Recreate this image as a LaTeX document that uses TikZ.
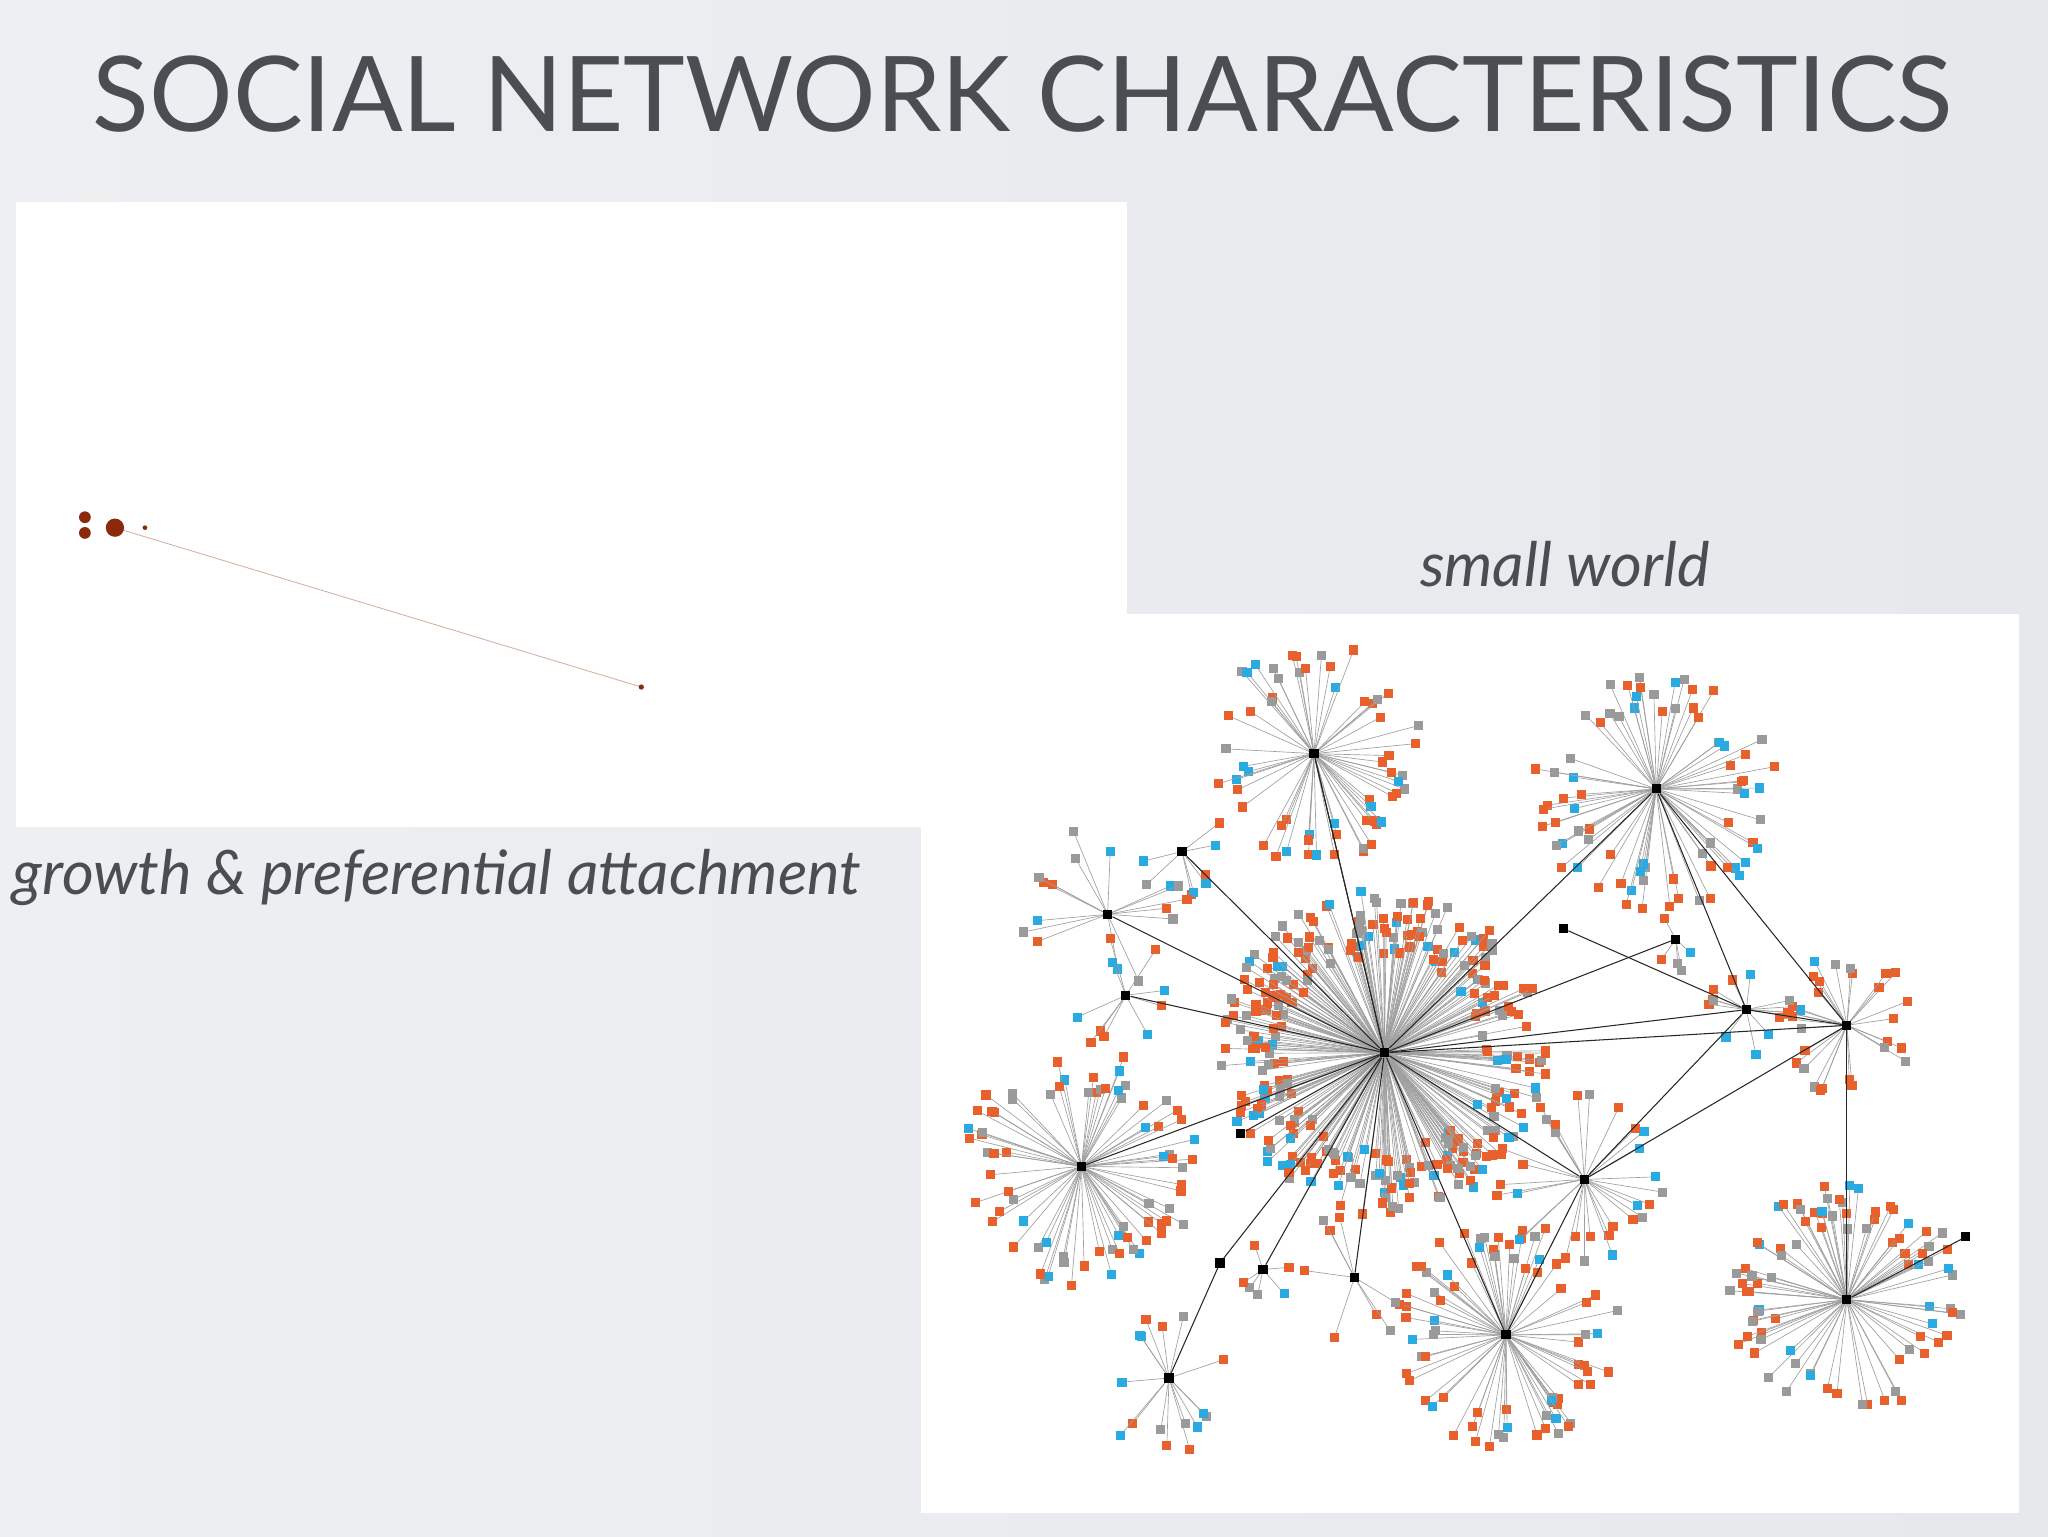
\documentclass[tikz,border=0pt]{standalone}
\usepackage{fontspec}
\setmainfont{Lato}
\begin{document}
\begin{tikzpicture}[x=1pt,y=-1pt]
\definecolor{sorange}{HTML}{E8602C}
\definecolor{sgray}{HTML}{9A9A9A}
\definecolor{sblue}{HTML}{29ABE2}
\definecolor{bgc}{HTML}{E6E8EC}
\definecolor{txt}{HTML}{4A4D52}
\definecolor{dotc}{HTML}{8B2A0A}
\tikzset{spoke/.style={draw=gray!75,line width=0.5pt},
 hubn/.style={fill=black,inner sep=0pt,minimum size=7pt,rectangle},
 link/.style={draw=black!85,line width=0.8pt},
 lbl/.style={text=txt,font=\fontsize{47}{50}\selectfont\itshape}}
\pgfmathsetseed{7}
\newcommand\hubstar[4]{%
 \foreach \i in {1,...,#4}{%
  \pgfmathsetmacro\ang{360*rnd}%
  \pgfmathsetmacro\rad{#3*(0.6+0.4*rnd)}%
  \pgfmathsetmacro\cc{rnd}%
  \ifdim\cc pt<0.55pt \def\col{sorange}\else\ifdim\cc pt<0.83pt \def\col{sgray}\else\def\col{sblue}\fi\fi
  \draw[spoke] (#1,#2) -- ++(\ang:\rad) coordinate (pp);
  \fill[\col] (pp) +(-3.5,-3.5) rectangle +(3.5,3.5);
 }}
\useasboundingbox (0,0) rectangle (1568,1176);
\shade[left color=bgc!70!white,right color=bgc] (0,0) rectangle (1568,1176);
\node[text=txt,font=\fontsize{80}{86}\selectfont,anchor=center] (title) at (783,72) {SOCIAL NETWORK CHARACTERISTICS};
% left panel
\fill[white] (12,155) rectangle (863,633);
\draw[dotc!40,line width=0.6pt] (88,404) -- (491,526);
\fill[dotc] (65,396) circle (4.5) (65,408) circle (4.5) (88,404) circle (7) (111,404) circle (1.8) (491,526) circle (2);
\node[lbl,anchor=west] (l1) at (6,672) {growth \& preferential attachment};
\node[lbl] (l2) at (1198,432) {small world};
% right panel
\fill[white] (705,470) rectangle (1546,1158);
\hubstar{1006}{577}{85}{60}
\hubstar{1268}{604}{95}{75}
\hubstar{1060}{806}{125}{320}
\hubstar{828}{893}{92}{75}
\hubstar{1153}{1022}{88}{75}
\hubstar{1414}{995}{90}{85}
\hubstar{1414}{785}{55}{30}
\hubstar{1337}{773}{40}{14}
\hubstar{1213}{903}{70}{30}
\hubstar{905}{652}{40}{8}
\hubstar{848}{700}{70}{16}
\hubstar{862}{762}{45}{10}
\hubstar{895}{1055}{58}{16}
\hubstar{967}{972}{25}{6}
\hubstar{1037}{978}{50}{8}
\hubstar{1283}{719}{25}{5}
\foreach \n/\x/\y in {h1/1006/577,h2/1268/604,h3/1060/806,h4/828/893,h5/1153/1022,h6/1414/995,h7/1414/785,h8/1337/773,h9/1213/903,s1/905/652,s2/848/700,s3/862/762,s4/895/1055,s5/934/967,s6/967/972,s7/1037/978,s8/1197/711,s9/1283/719,s10/1505/947,s11/950/868}
  \node[hubn] (\n) at (\x,\y) {};
\foreach \a/\b in {h3/h1,h3/h2,h3/h4,h3/h5,h3/h9,h3/h8,h3/h7,h2/h8,h2/h7,h8/h7,h9/h8,h9/h5,h7/h6,h3/s1,h3/s2,h3/s3,s4/s5,s5/h3,s6/h3,s7/h3,s8/h8,s9/h3,h6/s10,h3/s11,h9/h7,h1/h3}
  \draw[link] (\a) -- (\b);
\end{tikzpicture}
\end{document}
